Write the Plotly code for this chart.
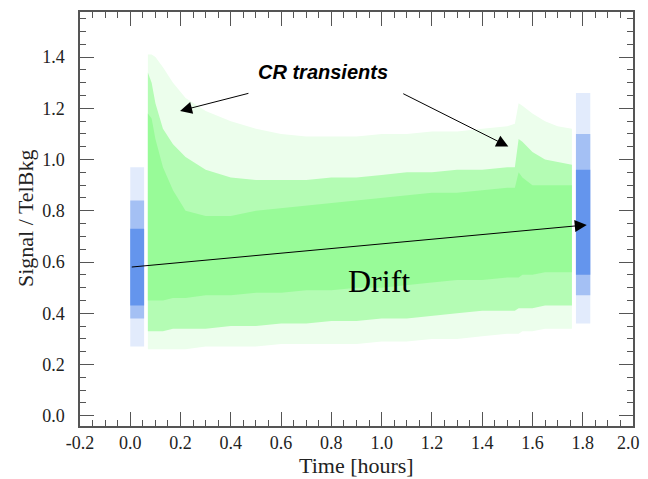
import plotly.graph_objects as go

# ---- data (envelopes of the dense point clouds) ----
green_t      = [0.07, 0.085, 0.10, 0.13, 0.17, 0.22, 0.30, 0.40, 0.50, 0.60, 0.70, 0.80, 0.90,
                1.00, 1.10, 1.20, 1.30, 1.40, 1.50, 1.53, 1.545, 1.56, 1.60, 1.65, 1.70, 1.757]
green_core_hi = [1.18, 1.16, 1.08, 0.97, 0.88, 0.80, 0.78, 0.78, 0.80, 0.81, 0.82, 0.83, 0.84,
                 0.85, 0.86, 0.87, 0.87, 0.88, 0.89, 0.89, 0.95, 0.93, 0.90, 0.90, 0.90, 0.90]
green_core_lo = [0.45, 0.45, 0.45, 0.45, 0.46, 0.46, 0.47, 0.47, 0.48, 0.48, 0.49, 0.49, 0.50,
                 0.50, 0.51, 0.52, 0.53, 0.53, 0.54, 0.54, 0.54, 0.55, 0.55, 0.56, 0.56, 0.56]
green_mid_hi = [1.34, 1.30, 1.22, 1.12, 1.06, 1.01, 0.96, 0.93, 0.92, 0.92, 0.92, 0.93, 0.93,
                0.94, 0.95, 0.95, 0.96, 0.96, 0.97, 0.97, 1.08, 1.07, 1.03, 1.00, 0.99, 0.98]
green_mid_lo = [0.33, 0.33, 0.33, 0.33, 0.34, 0.34, 0.34, 0.35, 0.35, 0.36, 0.36, 0.37, 0.37,
                0.38, 0.38, 0.39, 0.40, 0.41, 0.41, 0.41, 0.42, 0.42, 0.42, 0.43, 0.43, 0.43]
green_out_hi = [1.41, 1.41, 1.40, 1.36, 1.30, 1.24, 1.19, 1.15, 1.12, 1.10, 1.09, 1.09, 1.09,
                1.10, 1.10, 1.11, 1.11, 1.12, 1.13, 1.14, 1.22, 1.21, 1.18, 1.15, 1.13, 1.12]
green_out_lo = [0.26, 0.26, 0.26, 0.26, 0.26, 0.26, 0.27, 0.27, 0.27, 0.28, 0.28, 0.28, 0.28,
                0.29, 0.29, 0.30, 0.30, 0.31, 0.32, 0.32, 0.32, 0.33, 0.33, 0.34, 0.34, 0.34]

blue1_t = [0.0, 0.055]
blue1_core = [0.43, 0.73]
blue1_mid = [0.38, 0.84]
blue1_out = [0.27, 0.97]

blue2_t = [1.773, 1.83]
blue2_core = [0.55, 0.96]
blue2_mid = [0.47, 1.10]
blue2_out = [0.36, 1.26]

drift_start = (0.0, 0.58)
drift_end = (1.816, 0.745)
cr_arrow1 = ((0.476, 1.26), (0.198, 1.19))
cr_arrow2 = ((1.08, 1.26), (1.504, 1.051))

x_tick_vals = [-0.2, 0.0, 0.2, 0.4, 0.6, 0.8, 1.0, 1.2, 1.4, 1.6, 1.8, 2.0]
x_tick_text = ["-0.2", "0.0", "0.2", "0.4", "0.6", "0.8", "1.0", "1.2", "1.4", "1.6",
               "1.8", "2.0"]

x_range = [-0.2, 2.0]
y_range = [-0.04, 1.576]

GREEN = "#98fb98"
GREEN_MID = "#b4fcb4"
GREEN_OUT = "#ecfeec"
BLUE = "#6495ed"
BLUE_MID = "#a4c0f4"
BLUE_OUT = "#e2ebfc"

fig = go.Figure()


def band(t, lo, hi, color):
    fig.add_trace(go.Scatter(
        x=list(t) + list(t)[::-1],
        y=list(hi) + list(lo)[::-1],
        fill="toself", fillcolor=color, mode="lines",
        line=dict(width=0, color=color), hoverinfo="skip", showlegend=False))


band(green_t, green_out_lo, green_out_hi, GREEN_OUT)
band(green_t, green_mid_lo, green_mid_hi, GREEN_MID)
band(green_t, green_core_lo, green_core_hi, GREEN)

for tt, core, mid, out in [(blue1_t, blue1_core, blue1_mid, blue1_out),
                           (blue2_t, blue2_core, blue2_mid, blue2_out)]:
    band(tt, [out[0]] * 2, [out[1]] * 2, BLUE_OUT)
    band(tt, [mid[0]] * 2, [mid[1]] * 2, BLUE_MID)
    band(tt, [core[0]] * 2, [core[1]] * 2, BLUE)

# empty trace so that the mirrored (top / right) tick axes exist
fig.add_trace(go.Scatter(x=[], y=[], xaxis="x2", yaxis="y2", hoverinfo="skip",
                         showlegend=False))

title_font = dict(family="Liberation Serif", size=22, color="#222222")
label_font = dict(family="Liberation Serif", size=18, color="#222222")

ann = []
for (tail, tip) in [cr_arrow1, cr_arrow2, (drift_start, drift_end)]:
    ann.append(dict(x=tip[0], y=tip[1], ax=tail[0], ay=tail[1], xref="x", yref="y",
                    axref="x", ayref="y", text="", showarrow=True, arrowhead=2,
                    arrowsize=2.4, arrowwidth=1.0, arrowcolor="black"))
ann.append(dict(x=0.99, y=0.527, xref="x", yref="y", text="Drift", showarrow=False,
                font=dict(family="Liberation Serif", size=32, color="black")))
ann.append(dict(x=0.767, y=1.343, xref="x", yref="y", text="<b><i>CR transients</i></b>",
                showarrow=False,
                font=dict(family="Liberation Sans", size=20, color="black")))
# axis titles
ann.append(dict(x=0.5, y=0, xref="paper", yref="paper", yshift=-39, yanchor="middle",
                text="Time [hours]", showarrow=False, font=title_font))
ann.append(dict(x=0, y=0.5, xref="paper", yref="paper", xshift=-55, xanchor="center",
                textangle=-90, text="Signal / TelBkg", showarrow=False, font=title_font))
# last x tick label, nudged left so it stays inside the visible page
ann.append(dict(x=x_tick_vals[-1], y=0, xref="x", yref="paper", xshift=-5, yshift=-17,
                yanchor="middle", text=x_tick_text[-1], showarrow=False, font=label_font))

tick_style = dict(
    ticks="inside", ticklen=14, tickwidth=1.2, tickcolor="#555555",
    showgrid=False, zeroline=False, automargin=False,
    minor=dict(ticks="inside", ticklen=6, tickwidth=1.2, tickcolor="#555555",
               dtick=0.05, showgrid=False),
)

# the page body adds an 8px offset, so the figure is 8px smaller than the window
fig.update_layout(
    width=640, height=471,
    margin=dict(l=72, r=15, t=4, b=53),
    paper_bgcolor="white", plot_bgcolor="white",
    showlegend=False, hovermode=False,
    annotations=ann,
    xaxis=dict(range=x_range, tickvals=x_tick_vals,
               ticktext=x_tick_text[:-1] + [""],
               showline=True, linecolor="#555555", linewidth=1.5, mirror=True,
               ticklabelstandoff=0, tickfont=label_font,
               **tick_style),
    yaxis=dict(range=y_range, dtick=0.2, tick0=0, tickformat=".1f",
               showline=True, linecolor="#555555", linewidth=1.5, mirror=True,
               ticklabelstandoff=10, tickfont=label_font,
               **tick_style),
    xaxis2=dict(range=x_range, dtick=0.2, tick0=0, overlaying="x", side="top",
                anchor="y", showticklabels=False, showline=False, **tick_style),
    yaxis2=dict(range=y_range, dtick=0.2, tick0=0, overlaying="y", side="right",
                anchor="x", showticklabels=False, showline=False, **tick_style),
)

fig.write_html("out.html")
